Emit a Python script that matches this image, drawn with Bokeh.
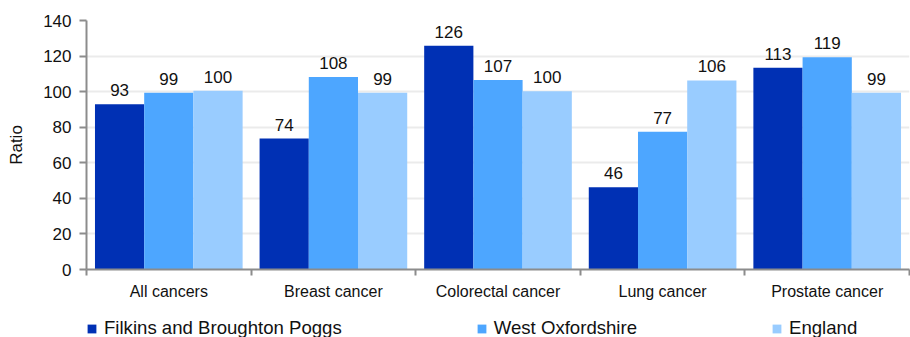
from bokeh.plotting import figure
from bokeh.layouts import column
from bokeh.models import (ColumnDataSource, Range1d, FixedTicker, Legend, LegendItem,
                          LabelSet)
from bokeh.embed import file_html
from bokeh.resources import INLINE
from bokeh.core.properties import value

categories = ["All cancers", "Breast cancer", "Colorectal cancer", "Lung cancer", "Prostate cancer"]
series_names = ["Filkins and Broughton Poggs", "West Oxfordshire", "England"]
filkins = [92.9, 73.6, 125.8, 46.2, 113.4]
west_oxon = [99.4, 108.3, 106.6, 77.4, 119.3]
england = [100.5, 99.4, 100.2, 106.3, 99.4]
colors = ["#0030b4", "#4da6ff", "#99ccff"]
y_ticks = [0, 20, 40, 60, 80, 100, 120, 140]

FONT = "Liberation Sans"

p = figure(frame_width=823, frame_height=249, x_range=Range1d(0, len(categories)), y_range=Range1d(0, 140),
           output_backend="svg", toolbar_location=None,
           min_border_left=86, min_border_right=1, min_border_top=20, min_border_bottom=33)
p.outline_line_color = None
p.background_fill_color = "white"

offsets = [-0.299, 0.0, 0.299]
for vals, off, col in zip([filkins, west_oxon, england], offsets, colors):
    src = ColumnDataSource(dict(
        x=[i + 0.5 + off for i in range(len(categories))],
        top=vals,
        label=[str(int(round(v))) for v in vals],
    ))
    p.vbar(x="x", top="top", width=0.299, source=src, fill_color=col, line_color=None)
    labels = LabelSet(x="x", y="top", text="label", source=src, text_align="center",
                      text_baseline="alphabetic", y_offset=8, text_font=value(FONT),
                      text_font_size="17px", text_color="#111111")
    p.add_layout(labels)

# y axis
p.yaxis.ticker = FixedTicker(ticks=y_ticks)
p.yaxis.axis_label = "Ratio"
p.yaxis.axis_label_text_font = FONT
p.yaxis.axis_label_text_font_size = "17px"
p.yaxis.axis_label_text_font_style = "normal"
p.yaxis.axis_label_text_color = "#111111"
p.yaxis.axis_label_standoff = 14
p.yaxis.major_label_text_font = FONT
p.yaxis.major_label_text_font_size = "17px"
p.yaxis.major_label_text_color = "#111111"
p.yaxis.major_tick_in = 0
p.yaxis.major_tick_out = 7
p.yaxis.minor_tick_line_color = None
p.yaxis.axis_line_color = "#8c8c8c"
p.yaxis.axis_line_width = 2
p.yaxis.major_tick_line_color = "#8c8c8c"
p.yaxis.major_tick_line_width = 2
p.yaxis.major_label_standoff = 8

# x axis: labels at category centers, ticks at boundaries
centers = [i + 0.5 for i in range(len(categories))]
bounds = list(range(len(categories) + 1))
p.xaxis.ticker = FixedTicker(ticks=centers, minor_ticks=bounds)
p.xaxis.major_label_overrides = {c: name for c, name in zip(centers, categories)}
p.xaxis.major_tick_line_color = None
p.xaxis.major_tick_in = 0
p.xaxis.major_tick_out = 0
p.xaxis.minor_tick_in = 0
p.xaxis.minor_tick_out = 6
p.xaxis.minor_tick_line_color = "#8c8c8c"
p.xaxis.minor_tick_line_width = 2
p.xaxis.axis_line_color = "#8c8c8c"
p.xaxis.axis_line_width = 2
p.xaxis.major_label_text_font = FONT
p.xaxis.major_label_text_font_size = "16px"
p.xaxis.major_label_text_color = "#111111"
p.xaxis.major_label_standoff = 7

p.xgrid.grid_line_color = None
p.ygrid.ticker = FixedTicker(ticks=y_ticks)
p.ygrid.grid_line_color = "#ebebeb"
p.ygrid.grid_line_width = 2

# legend in its own strip below the chart
lg = figure(width=910, height=35, x_range=Range1d(0, 1), y_range=Range1d(0, 1),
            output_backend="svg", toolbar_location=None,
            min_border_left=0, min_border_right=0, min_border_top=0, min_border_bottom=0)
lg.axis.visible = False
lg.grid.grid_line_color = None
lg.outline_line_color = None
items = []
for name, col in zip(series_names, colors):
    # zero-height swatch renderer: only its legend entry shows
    r = lg.vbar(x=[-10], top=[0], width=0.3, fill_color=col, line_color=None)
    items.append(LegendItem(label=name, renderers=[r]))
legend = Legend(items=items, orientation="horizontal", location=(0, -2),
                label_text_font=FONT, label_text_font_size="18.6px", label_text_color="#111111",
                glyph_width=11, glyph_height=11, label_standoff=7, spacing=134,
                label_height=18, padding=0, margin=0, border_line_color=None,
                background_fill_alpha=0)
lg.add_layout(legend, "center")

layout = column(p, lg, spacing=0)
open("out.html", "w").write(file_html(layout, INLINE))
